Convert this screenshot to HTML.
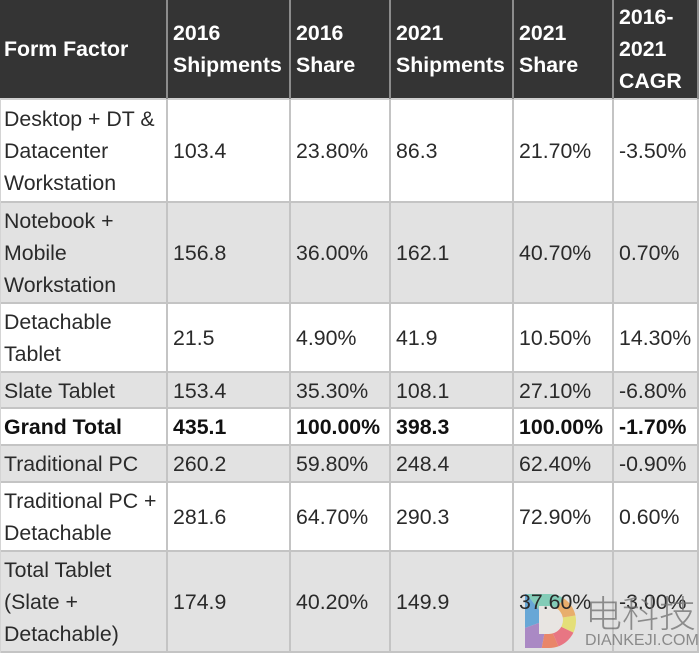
<!DOCTYPE html>
<html><head><meta charset="utf-8"><style>
html,body{margin:0;padding:0;background:#fff;}
#w{position:relative;width:700px;height:658px;overflow:hidden;background:#fff;font-family:"Liberation Sans",Arial,sans-serif;font-size:21.3px;line-height:32px;color:#2a2a2a;}
.c{position:absolute;display:flex;align-items:center;box-sizing:border-box;padding-left:6px;white-space:nowrap;z-index:3;}
.c0{padding-left:4px;}
.h{color:#fff;font-weight:bold;}
.b{font-weight:bold;color:#111;}
.bg{position:absolute;left:0;width:698px;z-index:1;}
.hl{position:absolute;left:0;width:698px;height:2px;background:#c4c4c4;z-index:2;}
.vl{position:absolute;width:2px;background:#c4c4c4;z-index:2;}
.vh{position:absolute;width:2px;background:#8c8c8c;z-index:2;top:0;height:99px;}
</style></head><body><div id="w">
<!-- backgrounds -->
<div class="bg" style="top:0;height:99px;background:#343434"></div>
<div class="bg" style="top:202px;height:101px;background:#e2e2e2"></div>
<div class="bg" style="top:372px;height:36px;background:#e2e2e2"></div>
<div class="bg" style="top:445px;height:37px;background:#e2e2e2"></div>
<div class="bg" style="top:551px;height:101px;background:#e2e2e2"></div>
<!-- horizontal lines -->
<div class="hl" style="top:98px;background:#cfcfcf"></div>
<div class="hl" style="top:201px"></div>
<div class="hl" style="top:302px"></div>
<div class="hl" style="top:371px"></div>
<div class="hl" style="top:407px"></div>
<div class="hl" style="top:444px"></div>
<div class="hl" style="top:481px"></div>
<div class="hl" style="top:550px"></div>
<div class="hl" style="top:651px"></div>
<!-- vertical lines -->
<div class="vh" style="left:166px"></div>
<div class="vh" style="left:289px"></div>
<div class="vh" style="left:389px"></div>
<div class="vh" style="left:512px"></div>
<div class="vh" style="left:612px"></div>
<div class="vh" style="left:697px"></div>
<div class="vl" style="left:166px;top:99px;height:554px"></div>
<div class="vl" style="left:289px;top:99px;height:554px"></div>
<div class="vl" style="left:389px;top:99px;height:554px"></div>
<div class="vl" style="left:512px;top:99px;height:554px"></div>
<div class="vl" style="left:612px;top:99px;height:554px"></div>
<div class="vl" style="left:697px;top:99px;height:554px"></div>
<div class="vl" style="left:0px;top:99px;height:554px;width:1px;background:#d4d4d4"></div>

<!-- header -->
<div class="c c0 h" style="left:0;top:0;width:167px;height:98px">Form Factor</div>
<div class="c h" style="left:167px;top:0;width:123px;height:98px">2016<br>Shipments</div>
<div class="c h" style="left:290px;top:0;width:100px;height:98px">2016<br>Share</div>
<div class="c h" style="left:390px;top:0;width:123px;height:98px">2021<br>Shipments</div>
<div class="c h" style="left:513px;top:0;width:100px;height:98px">2021<br>Share</div>
<div class="c h" style="left:613px;top:0;width:85px;height:98px">2016-<br>2021<br>CAGR</div>

<!-- row 1 -->
<div class="c c0" style="left:0;top:100px;width:167px;height:102px">Desktop + DT &amp;<br>Datacenter<br>Workstation</div>
<div class="c" style="left:167px;top:100px;width:123px;height:102px">103.4</div>
<div class="c" style="left:290px;top:100px;width:100px;height:102px">23.80%</div>
<div class="c" style="left:390px;top:100px;width:123px;height:102px">86.3</div>
<div class="c" style="left:513px;top:100px;width:100px;height:102px">21.70%</div>
<div class="c" style="left:613px;top:100px;width:85px;height:102px">-3.50%</div>

<!-- row 2 -->
<div class="c c0" style="left:0;top:203px;width:167px;height:100px">Notebook +<br>Mobile<br>Workstation</div>
<div class="c" style="left:167px;top:203px;width:123px;height:100px">156.8</div>
<div class="c" style="left:290px;top:203px;width:100px;height:100px">36.00%</div>
<div class="c" style="left:390px;top:203px;width:123px;height:100px">162.1</div>
<div class="c" style="left:513px;top:203px;width:100px;height:100px">40.70%</div>
<div class="c" style="left:613px;top:203px;width:85px;height:100px">0.70%</div>

<!-- row 3 -->
<div class="c c0" style="left:0;top:304px;width:167px;height:68px">Detachable<br>Tablet</div>
<div class="c" style="left:167px;top:304px;width:123px;height:68px">21.5</div>
<div class="c" style="left:290px;top:304px;width:100px;height:68px">4.90%</div>
<div class="c" style="left:390px;top:304px;width:123px;height:68px">41.9</div>
<div class="c" style="left:513px;top:304px;width:100px;height:68px">10.50%</div>
<div class="c" style="left:613px;top:304px;width:85px;height:68px">14.30%</div>

<!-- row 4 -->
<div class="c c0" style="left:0;top:373px;width:167px;height:35px">Slate Tablet</div>
<div class="c" style="left:167px;top:373px;width:123px;height:35px">153.4</div>
<div class="c" style="left:290px;top:373px;width:100px;height:35px">35.30%</div>
<div class="c" style="left:390px;top:373px;width:123px;height:35px">108.1</div>
<div class="c" style="left:513px;top:373px;width:100px;height:35px">27.10%</div>
<div class="c" style="left:613px;top:373px;width:85px;height:35px">-6.80%</div>

<!-- row 5 -->
<div class="c c0 b" style="left:0;top:409px;width:167px;height:36px">Grand Total</div>
<div class="c b" style="left:167px;top:409px;width:123px;height:36px">435.1</div>
<div class="c b" style="left:290px;top:409px;width:100px;height:36px">100.00%</div>
<div class="c b" style="left:390px;top:409px;width:123px;height:36px">398.3</div>
<div class="c b" style="left:513px;top:409px;width:100px;height:36px">100.00%</div>
<div class="c b" style="left:613px;top:409px;width:85px;height:36px">-1.70%</div>

<!-- row 6 -->
<div class="c c0" style="left:0;top:446px;width:167px;height:36px">Traditional PC</div>
<div class="c" style="left:167px;top:446px;width:123px;height:36px">260.2</div>
<div class="c" style="left:290px;top:446px;width:100px;height:36px">59.80%</div>
<div class="c" style="left:390px;top:446px;width:123px;height:36px">248.4</div>
<div class="c" style="left:513px;top:446px;width:100px;height:36px">62.40%</div>
<div class="c" style="left:613px;top:446px;width:85px;height:36px">-0.90%</div>

<!-- row 7 -->
<div class="c c0" style="left:0;top:483px;width:167px;height:68px">Traditional PC +<br>Detachable</div>
<div class="c" style="left:167px;top:483px;width:123px;height:68px">281.6</div>
<div class="c" style="left:290px;top:483px;width:100px;height:68px">64.70%</div>
<div class="c" style="left:390px;top:483px;width:123px;height:68px">290.3</div>
<div class="c" style="left:513px;top:483px;width:100px;height:68px">72.90%</div>
<div class="c" style="left:613px;top:483px;width:85px;height:68px">0.60%</div>

<!-- row 8 -->
<div class="c c0" style="left:0;top:552px;width:167px;height:100px">Total Tablet<br>(Slate +<br>Detachable)</div>
<div class="c" style="left:167px;top:552px;width:123px;height:100px">174.9</div>
<div class="c" style="left:290px;top:552px;width:100px;height:100px">40.20%</div>
<div class="c" style="left:390px;top:552px;width:123px;height:100px">149.9</div>
<div class="c" style="left:513px;top:552px;width:100px;height:100px">37.60%</div>
<div class="c" style="left:613px;top:552px;width:85px;height:100px">-3.00%</div>

<!-- watermark logo -->
<svg style="position:absolute;left:525px;top:592px;z-index:2;opacity:0.92" width="54" height="58" viewBox="0 0 54 58">
<defs><clipPath id="dc"><path d="M0,2 H24 A27,27 0 0 1 24,56 H0 Z"/></clipPath></defs>
<g clip-path="url(#dc)">
<polygon points="0,0 44,0 22,28" fill="#7ccbb4"/>
<polygon points="0,0 22,28 0,36" fill="#5ea2d6"/>
<polygon points="0,36 22,28 16,60 0,60" fill="#a682c2"/>
<polygon points="16,60 22,28 36,60" fill="#ea7f5f"/>
<polygon points="36,60 22,28 60,46" fill="#e96d7c"/>
<polygon points="60,46 22,28 60,22" fill="#e5df70"/>
<polygon points="60,22 22,28 44,0" fill="#e9aa62"/>
</g>
<path d="M14,14 H24 A14,14 0 0 1 24,42 H14 Z" fill="#e9e6e2"/>
</svg>
<div style="position:absolute;left:585px;top:590px;width:120px;white-space:nowrap;z-index:4;font-family:'Noto Sans CJK SC','WenQuanYi Zen Hei',sans-serif;font-size:37px;line-height:42px;color:rgba(110,110,110,0.75);font-weight:300;">电科技</div>
<div style="position:absolute;left:585px;top:633px;white-space:nowrap;z-index:4;font-family:'Liberation Sans',Arial,sans-serif;font-size:16px;line-height:16px;color:#8a8a8a;">DIANKEJI.COM</div>
</div></body></html>
